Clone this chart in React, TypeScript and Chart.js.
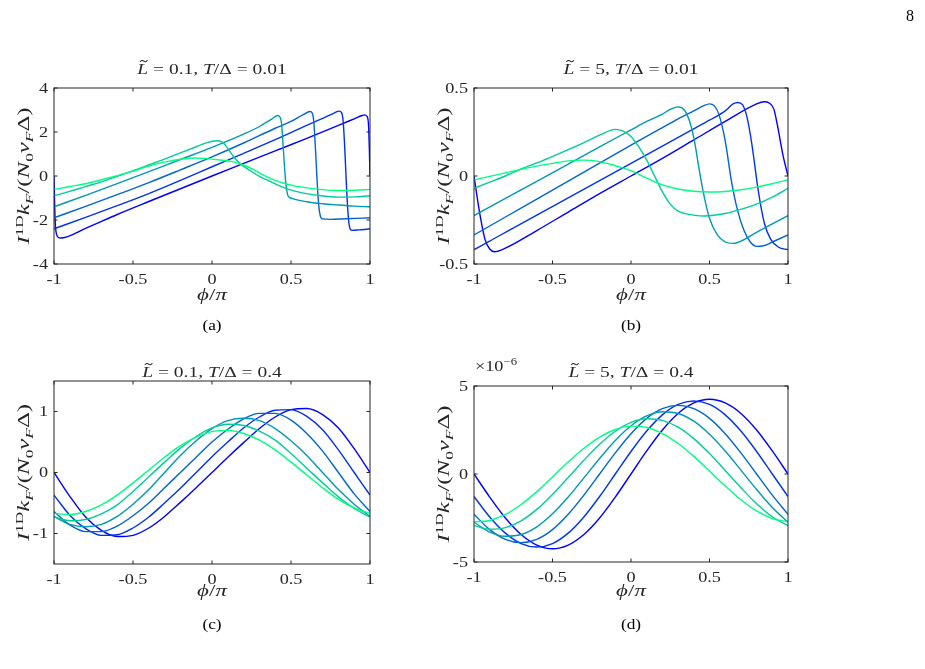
import React, { useEffect, useRef } from 'react';
import { Chart, registerables } from 'chart.js';

Chart.register(...registerables);

const W = 925;
const H = 669;
const FONT = '"Liberation Serif", "DejaVu Serif", serif';
const INK = '#262626';
const COLORS = ['rgb(0,255,128)', 'rgb(0,204,153)', 'rgb(0,153,179)', 'rgb(0,102,204)', 'rgb(0,51,230)', 'rgb(0,0,255)'];

const XTICKS = [-1, -0.5, 0, 0.5, 1];
const GRID = [-1, -0.9, -0.8, -0.7, -0.6, -0.5, -0.4, -0.3, -0.2, -0.1, 0, 0.1, 0.2, 0.3, 0.4, 0.5, 0.6, 0.7, 0.8, 0.9, 1];

// ---------- Panel (a): L=0.1, T/Δ=0.01 ----------
const A0_X = [-1, -0.9, -0.8, -0.7, -0.6, -0.5, -0.4, -0.3, -0.2, -0.12, -0.05, 0.05, 0.135, 0.2, 0.26, 0.32, 0.38, 0.45, 0.52, 0.6, 0.7, 0.8, 0.9, 1];
const A0_Y = [-0.61, -0.48, -0.35, -0.17, 0.02, 0.22, 0.45, 0.63, 0.76, 0.82, 0.8, 0.73, 0.64, 0.5, 0.3, 0.06, -0.14, -0.32, -0.45, -0.54, -0.62, -0.66, -0.65, -0.61];
const A1_X = [-1, -0.9, -0.8, -0.7, -0.6, -0.5, -0.4, -0.3, -0.2, -0.1, -0.03, 0.03, 0.07, 0.1, 0.135, 0.18, 0.24, 0.3, 0.345, 0.42, 0.49, 0.58, 0.66, 0.8, 0.9, 1];
const A1_Y = [-0.9, -0.7, -0.48, -0.27, -0.02, 0.24, 0.5, 0.77, 1.05, 1.33, 1.52, 1.6, 1.52, 1.25, 0.9, 0.55, 0.25, -0.02, -0.17, -0.43, -0.62, -0.78, -0.87, -0.96, -0.95, -0.9];
const A2_X = [-1, -0.8, -0.6, -0.4, -0.2, 0, 0.2, 0.3, 0.38, 0.415, 0.43, 0.44, 0.45, 0.46, 0.47, 0.48, 0.49, 0.51, 0.6, 0.7, 0.8, 0.9, 1];
const A2_Y = [-1.4, -0.88, -0.35, 0.2, 0.75, 1.3, 1.9, 2.25, 2.6, 2.75, 2.68, 2.4, 1.4, 0.3, -0.5, -0.88, -0.97, -1.03, -1.17, -1.26, -1.32, -1.37, -1.4];
const A3_X = [-1, -0.8, -0.6, -0.4, -0.2, 0, 0.2, 0.4, 0.5, 0.58, 0.62, 0.635, 0.645, 0.655, 0.665, 0.675, 0.685, 0.7, 0.75, 0.85, 1];
const A3_Y = [-1.9, -1.38, -0.85, -0.3, 0.28, 0.87, 1.5, 2.17, 2.48, 2.8, 2.93, 2.85, 2.4, 1.2, -0.2, -1.3, -1.8, -1.95, -1.97, -1.94, -1.9];
const A4_X = [-1, -0.8, -0.6, -0.4, -0.2, 0, 0.2, 0.4, 0.6, 0.7, 0.77, 0.805, 0.82, 0.83, 0.84, 0.85, 0.86, 0.87, 0.885, 0.93, 1];
const A4_Y = [-2.4, -1.88, -1.35, -0.8, -0.2, 0.42, 1.03, 1.65, 2.3, 2.62, 2.85, 2.95, 2.88, 2.5, 1.3, -0.3, -1.6, -2.3, -2.47, -2.45, -2.4];
const A5_X = [-1, -0.997, -0.993, -0.988, -0.978, -0.96, -0.8, -0.6, -0.4, -0.2, 0, 0.2, 0.4, 0.6, 0.8, 0.9, 0.95, 0.965, 0.98, 0.99, 0.996, 1];
const A5_Y = [0, -1.0, -2.0, -2.5, -2.75, -2.82, -2.38, -1.75, -1.16, -0.58, 0, 0.57, 1.14, 1.71, 2.3, 2.6, 2.75, 2.78, 2.72, 2.4, 1.2, 0];

// ---------- Panel (b): L=5, T/Δ=0.01 ----------
const B0_X = GRID;
const B0_Y = [-0.022, -0.002, 0.018, 0.038, 0.056, 0.072, 0.086, 0.09, 0.082, 0.058, 0.03, -0.012, -0.05, -0.074, -0.087, -0.091, -0.088, -0.078, -0.063, -0.044, -0.022];
const B1_X = [-1, -0.9, -0.8, -0.7, -0.6, -0.5, -0.4, -0.3, -0.2, -0.1, -0.05, 0, 0.05, 0.1, 0.15, 0.2, 0.25, 0.3, 0.4, 0.47, 0.6, 0.7, 0.8, 0.9, 1];
const B1_Y = [-0.07, -0.035, 0.0, 0.04, 0.075, 0.11, 0.15, 0.19, 0.232, 0.265, 0.255, 0.225, 0.165, 0.09, 0.0, -0.09, -0.16, -0.2, -0.222, -0.227, -0.213, -0.19, -0.16, -0.12, -0.07];
const B2_X = [-1, -0.8, -0.6, -0.4, -0.2, 0, 0.1, 0.2, 0.25, 0.3, 0.34, 0.37, 0.4, 0.43, 0.46, 0.5, 0.55, 0.6, 0.65, 0.7, 0.8, 0.9, 1];
const B2_Y = [-0.225, -0.127, -0.03, 0.068, 0.166, 0.262, 0.31, 0.352, 0.378, 0.393, 0.375, 0.32, 0.22, 0.06, -0.09, -0.24, -0.335, -0.375, -0.383, -0.37, -0.32, -0.272, -0.225];
const B3_X = [-1, -0.8, -0.6, -0.4, -0.2, 0, 0.2, 0.3, 0.4, 0.46, 0.5, 0.53, 0.56, 0.6, 0.64, 0.68, 0.72, 0.76, 0.8, 0.85, 0.9, 1];
const B3_Y = [-0.335, -0.233, -0.131, -0.029, 0.073, 0.175, 0.275, 0.325, 0.37, 0.398, 0.41, 0.4, 0.35, 0.2, -0.03, -0.2, -0.31, -0.375, -0.4, -0.395, -0.375, -0.335];
const B4_X = [-1, -0.9, -0.8, -0.6, -0.4, -0.2, 0, 0.2, 0.4, 0.5, 0.6, 0.65, 0.68, 0.71, 0.74, 0.77, 0.81, 0.85, 0.89, 0.94, 1];
const B4_Y = [-0.418, -0.37, -0.32, -0.222, -0.124, -0.026, 0.072, 0.17, 0.268, 0.317, 0.37, 0.41, 0.418, 0.405, 0.33, 0.18, -0.08, -0.27, -0.36, -0.405, -0.418];
const B5_X = [-1, -0.98, -0.96, -0.93, -0.9, -0.87, -0.8, -0.6, -0.4, -0.2, 0, 0.2, 0.4, 0.6, 0.8, 0.85, 0.88, 0.91, 0.93, 0.97, 1];
const B5_Y = [0, -0.12, -0.23, -0.36, -0.415, -0.43, -0.41, -0.31, -0.205, -0.1, 0, 0.1, 0.205, 0.31, 0.41, 0.422, 0.415, 0.38, 0.3, 0.11, 0];

// ---------- Panel (c): L=0.1, T/Δ=0.4 (x = GRID) ----------
const C0_Y = [-0.67, -0.69, -0.64, -0.53, -0.37, -0.17, 0.04, 0.25, 0.44, 0.58, 0.67, 0.69, 0.64, 0.53, 0.37, 0.17, -0.04, -0.25, -0.44, -0.58, -0.67];
const C1_Y = [-0.73, -0.79, -0.77, -0.68, -0.53, -0.31, -0.07, 0.17, 0.4, 0.59, 0.73, 0.79, 0.77, 0.68, 0.53, 0.31, 0.07, -0.17, -0.4, -0.59, -0.73];
const C2_Y = [-0.72, -0.85, -0.89, -0.85, -0.72, -0.52, -0.28, 0, 0.28, 0.52, 0.72, 0.85, 0.89, 0.85, 0.72, 0.52, 0.28, 0, -0.28, -0.52, -0.72];
const C3_Y = [-0.64, -0.86, -0.97, -0.97, -0.88, -0.71, -0.5, -0.25, 0, 0.25, 0.5, 0.71, 0.88, 0.97, 0.97, 0.86, 0.64, 0.35, 0, -0.35, -0.64];
const C4_Y = [-0.37, -0.7, -0.92, -1.03, -1.02, -0.91, -0.73, -0.5, -0.26, 0, 0.26, 0.5, 0.73, 0.91, 1.02, 1.03, 0.92, 0.7, 0.37, 0, -0.37];
const C5_Y = [0, -0.39, -0.73, -0.95, -1.05, -1.03, -0.91, -0.72, -0.49, -0.25, 0, 0.25, 0.49, 0.72, 0.91, 1.03, 1.05, 0.95, 0.73, 0.39, 0];

// ---------- Panel (d): L=5, T/Δ=0.4, values in units of 1e-6 (x = GRID) ----------
const D0_Y = [-2.72, -2.64, -2.3, -1.73, -1.0, -0.17, 0.68, 1.46, 2.1, 2.53, 2.72, 2.64, 2.3, 1.73, 1.0, 0.17, -0.68, -1.46, -2.1, -2.53, -2.72];
const D1_Y = [-2.93, -3.14, -3.05, -2.66, -2.01, -1.16, -0.2, 0.78, 1.69, 2.43, 2.93, 3.14, 3.05, 2.66, 2.01, 1.16, 0.2, -0.78, -1.69, -2.43, -2.93];
const D2_Y = [-2.74, -3.3, -3.54, -3.44, -3.0, -2.26, -1.31, -0.22, 0.88, 1.9, 2.74, 3.3, 3.54, 3.44, 3.0, 2.26, 1.31, 0.22, -0.88, -1.9, -2.74];
const D3_Y = [-2.29, -3.16, -3.71, -3.9, -3.71, -3.16, -2.29, -1.2, 0, 1.2, 2.29, 3.16, 3.71, 3.9, 3.71, 3.16, 2.29, 1.2, 0, -1.2, -2.29];
const D4_Y = [-1.28, -2.44, -3.36, -3.95, -4.15, -3.95, -3.36, -2.44, -1.28, 0, 1.28, 2.44, 3.36, 3.95, 4.15, 3.95, 3.36, 2.44, 1.28, 0, -1.28];
const D5_Y = [0, -1.31, -2.5, -3.44, -4.04, -4.25, -4.04, -3.44, -2.5, -1.31, 0, 1.31, 2.5, 3.44, 4.04, 4.25, 4.04, 3.44, 2.5, 1.31, 0];

const YTICKS_A = [-4, -2, 0, 2, 4];
const YTICKS_B = [-0.5, 0, 0.5];
const YTICKS_C = [-1, 0, 1];
const YTICKS_D = [-5, 0, 5];

// ---------- text helpers ----------
type Seg = { t: string; it?: boolean; k?: number; dy?: number; tilde?: boolean };

const fontOf = (size: number, s: Seg) => `${s.it ? 'italic ' : ''}${(size * (s.k ?? 1)).toFixed(2)}px ${FONT}`;

function drawRich(
  ctx: CanvasRenderingContext2D,
  segs: Seg[],
  size: number,
  x: number,
  y: number,
  sx: number,
  align: 'center' | 'left' | 'right'
) {
  ctx.save();
  ctx.textAlign = 'left';
  ctx.textBaseline = 'alphabetic';
  let w = 0;
  const ws: number[] = [];
  for (const s of segs) {
    ctx.font = fontOf(size, s);
    const m = ctx.measureText(s.t).width;
    ws.push(m);
    w += m;
  }
  const total = w * sx;
  const start = align === 'center' ? x - total / 2 : align === 'right' ? x - total : x;
  ctx.translate(start, y);
  ctx.scale(sx, 1);
  let cx = 0;
  segs.forEach((s, i) => {
    ctx.font = fontOf(size, s);
    const dy = (s.dy ?? 0) * size;
    ctx.fillText(s.t, cx, dy);
    if (s.tilde) {
      const tx = cx + ws[i] * 0.6;
      const ty = dy - size * 0.86;
      const tw = size * 0.38;
      ctx.beginPath();
      ctx.moveTo(tx - tw / 2, ty + size * 0.05);
      ctx.quadraticCurveTo(tx - tw / 4, ty - size * 0.11, tx, ty);
      ctx.quadraticCurveTo(tx + tw / 4, ty + size * 0.11, tx + tw / 2, ty - size * 0.05);
      ctx.lineWidth = 0.9;
      ctx.strokeStyle = INK;
      ctx.stroke();
    }
    cx += ws[i];
  });
  ctx.restore();
}

const TICK_SIZE = 14;
const TICK_SX = 1.3;
const TITLE_SIZE = 15;
const TITLE_SX = 1.3;
const YLAB_SIZE = 16;
const YLAB_SX = 1.55;
const XLAB_SIZE = 17;
const XLAB_SX = 1.35;
const CAP_SIZE = 15;
const CAP_SX = 1.15;
const TICK_LEN = 3.5;

const YLABEL: Seg[] = [
  { t: 'I', it: true },
  { t: '1D', k: 0.7, dy: -0.4 },
  { t: 'k', it: true },
  { t: 'F', it: true, k: 0.7, dy: 0.22 },
  { t: '/(' },
  { t: 'N', it: true },
  { t: '0', k: 0.7, dy: 0.22 },
  { t: 'v', it: true },
  { t: 'F', it: true, k: 0.7, dy: 0.22 },
  { t: 'Δ)' },
];
const XLABEL: Seg[] = [{ t: 'ϕ', it: true }, { t: '/' }, { t: 'π', it: true }];

const titleSegs = (l: string, t: string): Seg[] => [
  { t: 'L', it: true, tilde: true },
  { t: ` = ${l}, ` },
  { t: 'T', it: true },
  { t: `/Δ = ${t}` },
];

interface PanelCfg {
  id: string;
  box: [number, number, number, number];
  yMin: number;
  yMax: number;
  yTicks: number[];
  xs: number[][];
  ys: number[][];
  title: Seg[];
  titleY: number;
  xlabelY: number;
  captionY: number;
  caption: string;
  extra?: (ctx: CanvasRenderingContext2D) => void;
}

const PANELS: PanelCfg[] = [
  {
    id: 'a',
    box: [54, 88, 370, 264],
    yMin: -4,
    yMax: 4,
    yTicks: YTICKS_A,
    xs: [A0_X, A1_X, A2_X, A3_X, A4_X, A5_X],
    ys: [A0_Y, A1_Y, A2_Y, A3_Y, A4_Y, A5_Y],
    title: titleSegs('0.1', '0.01'),
    titleY: 74,
    xlabelY: 300,
    captionY: 330,
    caption: '(a)',
    extra: (ctx) => {
      ctx.fillStyle = '#000';
      drawRich(ctx, [{ t: '8' }], 16, 910, 21, 1, 'center');
    },
  },
  {
    id: 'b',
    box: [474, 88, 788, 264],
    yMin: -0.5,
    yMax: 0.5,
    yTicks: YTICKS_B,
    xs: [B0_X, B1_X, B2_X, B3_X, B4_X, B5_X],
    ys: [B0_Y, B1_Y, B2_Y, B3_Y, B4_Y, B5_Y],
    title: titleSegs('5', '0.01'),
    titleY: 74,
    xlabelY: 300,
    captionY: 330,
    caption: '(b)',
  },
  {
    id: 'c',
    box: [54, 381, 370, 564],
    yMin: -1.5,
    yMax: 1.5,
    yTicks: YTICKS_C,
    xs: [GRID, GRID, GRID, GRID, GRID, GRID],
    ys: [C0_Y, C1_Y, C2_Y, C3_Y, C4_Y, C5_Y],
    title: titleSegs('0.1', '0.4'),
    titleY: 377,
    xlabelY: 596,
    captionY: 629,
    caption: '(c)',
  },
  {
    id: 'd',
    box: [474, 386, 788, 562],
    yMin: -5,
    yMax: 5,
    yTicks: YTICKS_D,
    xs: [GRID, GRID, GRID, GRID, GRID, GRID],
    ys: [D0_Y, D1_Y, D2_Y, D3_Y, D4_Y, D5_Y],
    title: titleSegs('5', '0.4'),
    titleY: 377,
    xlabelY: 596,
    captionY: 629,
    caption: '(d)',
    extra: (ctx) => {
      ctx.fillStyle = INK;
      drawRich(ctx, [{ t: '×10' }, { t: '−6', k: 0.7, dy: -0.45 }], 14, 475, 371, 1.3, 'left');
    },
  },
];

function makePlugin(cfg: PanelCfg) {
  return {
    id: 'decor_' + cfg.id,
    afterDraw(chart: any) {
      const ctx: CanvasRenderingContext2D = chart.ctx;
      const a = chart.chartArea;
      const xs = chart.scales.x;
      const ys = chart.scales.y;
      ctx.save();
      ctx.strokeStyle = INK;
      ctx.lineWidth = 1;
      ctx.strokeRect(a.left, a.top, a.right - a.left, a.bottom - a.top);
      ctx.beginPath();
      for (const t of xs.ticks) {
        const px = xs.getPixelForValue(t.value);
        ctx.moveTo(px, a.bottom);
        ctx.lineTo(px, a.bottom - TICK_LEN);
        ctx.moveTo(px, a.top);
        ctx.lineTo(px, a.top + TICK_LEN);
      }
      for (const t of ys.ticks) {
        const py = ys.getPixelForValue(t.value);
        ctx.moveTo(a.left, py);
        ctx.lineTo(a.left + TICK_LEN, py);
        ctx.moveTo(a.right, py);
        ctx.lineTo(a.right - TICK_LEN, py);
      }
      ctx.stroke();
      ctx.fillStyle = INK;
      for (const t of xs.ticks) {
        const px = xs.getPixelForValue(t.value);
        drawRich(ctx, [{ t: String(t.value) }], TICK_SIZE, px, a.bottom + 20, TICK_SX, 'center');
      }
      for (const t of ys.ticks) {
        const py = ys.getPixelForValue(t.value);
        drawRich(ctx, [{ t: String(t.value) }], TICK_SIZE, a.left - 6, py + 4.5, TICK_SX, 'right');
      }
      const cxm = (a.left + a.right) / 2;
      drawRich(ctx, cfg.title, TITLE_SIZE, cxm, cfg.titleY, TITLE_SX, 'center');
      drawRich(ctx, XLABEL, XLAB_SIZE, cxm, cfg.xlabelY, XLAB_SX, 'center');
      ctx.fillStyle = '#000';
      drawRich(ctx, [{ t: cfg.caption }], CAP_SIZE, cxm, cfg.captionY, CAP_SX, 'center');
      ctx.fillStyle = INK;
      ctx.save();
      ctx.translate(a.left - 25, (a.top + a.bottom) / 2);
      ctx.rotate(-Math.PI / 2);
      drawRich(ctx, YLABEL, YLAB_SIZE, 0, 0, YLAB_SX, 'center');
      ctx.restore();
      if (cfg.extra) cfg.extra(ctx);
      ctx.restore();
    },
  };
}

function Panel({ cfg }: { cfg: PanelCfg }) {
  const ref = useRef<HTMLCanvasElement>(null);
  useEffect(() => {
    const [l, t, r, b] = cfg.box;
    const chart = new Chart(ref.current as HTMLCanvasElement, {
      type: 'line',
      data: {
        datasets: cfg.ys.map((yArr, i) => ({
          data: cfg.xs[i].map((x, j) => ({ x, y: yArr[j] })),
          borderColor: COLORS[i],
          backgroundColor: COLORS[i],
          borderWidth: 1.4,
          pointRadius: 0,
          fill: false,
          cubicInterpolationMode: 'monotone' as const,
        })),
      },
      options: {
        responsive: false,
        animation: false,
        devicePixelRatio: 1,
        events: [],
        layout: { padding: { left: l, top: t, right: W - r, bottom: H - b } },
        plugins: { legend: { display: false }, tooltip: { enabled: false }, title: { display: false } },
        scales: {
          x: {
            type: 'linear',
            min: -1,
            max: 1,
            afterBuildTicks: (s: any) => {
              s.ticks = XTICKS.map((v) => ({ value: v }));
            },
            afterFit: (s: any) => {
              s.height = 0;
            },
            grid: { display: false, drawTicks: false },
            border: { display: false },
            ticks: { display: false },
          },
          y: {
            type: 'linear',
            min: cfg.yMin,
            max: cfg.yMax,
            afterBuildTicks: (s: any) => {
              s.ticks = cfg.yTicks.map((v) => ({ value: v }));
            },
            afterFit: (s: any) => {
              s.width = 0;
            },
            grid: { display: false, drawTicks: false },
            border: { display: false },
            ticks: { display: false },
          },
        },
      } as any,
      plugins: [makePlugin(cfg)],
    });
    return () => chart.destroy();
  }, [cfg]);
  return (
    <canvas
      ref={ref}
      width={W}
      height={H}
      style={{ position: 'absolute', left: 0, top: 0, width: W, height: H }}
    />
  );
}

export default function App() {
  return (
    <div style={{ position: 'absolute', left: 0, top: 0, width: W, height: H, background: '#fff', overflow: 'hidden' }}>
      {PANELS.map((p) => (
        <Panel key={p.id} cfg={p} />
      ))}
    </div>
  );
}
